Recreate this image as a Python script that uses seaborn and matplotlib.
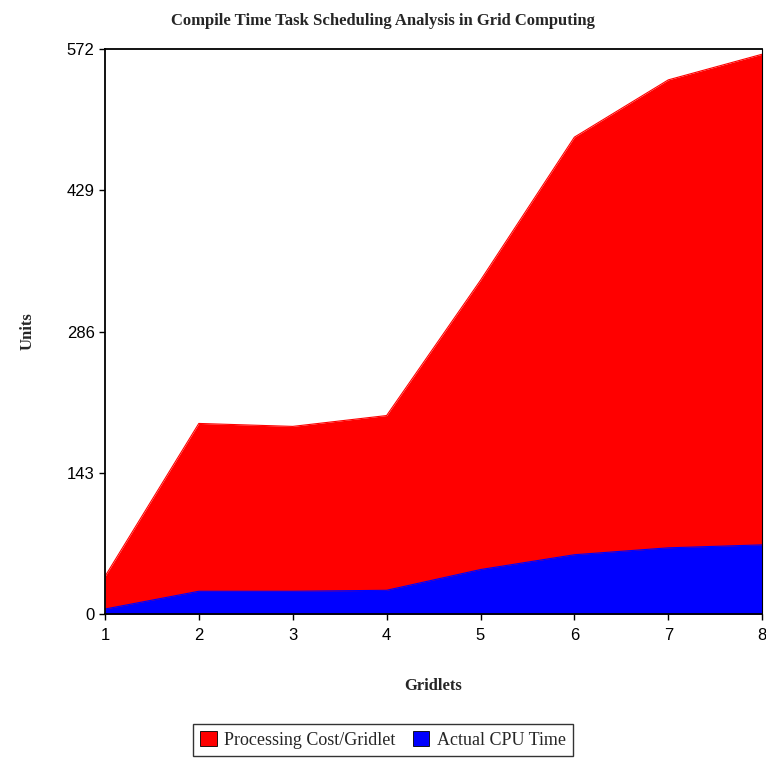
import numpy as np
import pandas as pd
import matplotlib
matplotlib.use('Agg')
import matplotlib.pyplot as plt
from matplotlib.patches import Patch
import seaborn as sns

# data
gridlets = [1, 2, 3, 4, 5, 6, 7, 8]
processing_cost = [38, 193, 190, 201, 338, 483, 541, 567]
cpu_time = [5, 23, 23, 24, 45, 60, 67, 70]
y_ticks = [0, 143, 286, 429, 572]

series_names = ["Processing Cost/Gridlet", "Actual CPU Time"]
series_colors = ["#ff0000", "#0000ff"]

df = pd.DataFrame({
    "Gridlets": gridlets * 2,
    "Units": processing_cost + cpu_time,
    "Series": [series_names[0]] * len(gridlets) + [series_names[1]] * len(gridlets),
})

sns.set_style("white")
plt.rcParams['font.family'] = ['Liberation Sans', 'DejaVu Sans']

fig = plt.figure(figsize=(7.66, 7.58), dpi=100)
ax = fig.add_axes([0.137, 0.190, 0.858, 0.745])

# areas (overlapping, not stacked)
for name, color in zip(series_names, series_colors):
    sub = df[df["Series"] == name]
    ax.fill_between(sub["Gridlets"], 0, sub["Units"], color=color, linewidth=0)
sns.lineplot(data=df, x="Gridlets", y="Units", hue="Series",
             palette=series_colors, linewidth=0.8, legend=False, ax=ax)

ax.set_xlim(1, 8)
ax.set_ylim(0, 572)
ax.set_xticks(gridlets)
ax.set_yticks(y_ticks)
ax.tick_params(axis='both', direction='out', length=4, width=1, labelsize=12,
               bottom=True, left=True, colors='black')
ax.tick_params(axis='x', pad=6)
for side in ['left', 'bottom', 'top', 'right']:
    ax.spines[side].set_visible(True)
    ax.spines[side].set_color('black')
    ax.spines[side].set_linewidth(1.3)
ax.spines['right'].set_linewidth(0.8)

serif = ['Liberation Serif', 'DejaVu Serif']
ax.set_xlabel("Gridlets", fontsize=12, fontweight='bold', family=serif)
ax.set_ylabel("Units", fontsize=12, fontweight='bold', family=serif)
ax.xaxis.set_label_coords(0.5, -0.113)
ax.yaxis.set_label_coords(-0.106, 0.5)
fig.text(0.5, 0.972, "Compile Time Task Scheduling Analysis in Grid Computing",
         ha='center', va='center', fontsize=12, fontweight='bold', family=serif)

handles = [Patch(facecolor=c, edgecolor='black', linewidth=0.6) for c in series_colors]
fig.legend(handles, series_names, loc='center', bbox_to_anchor=(0.5, 0.024),
           ncol=2, frameon=True, fancybox=False, edgecolor='black',
           prop={'family': serif, 'size': 13}, handlelength=0.9, handleheight=0.9,
           handletextpad=0.4, columnspacing=1.0, borderpad=0.4)

fig.savefig("out.png", dpi=100)
